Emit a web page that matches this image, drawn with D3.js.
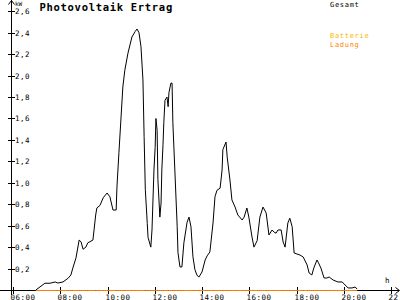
<!DOCTYPE html>
<html><head><meta charset="utf-8">
<script src="https://cdn.jsdelivr.net/npm/d3@7"></script>
<style>
html,body{margin:0;padding:0;background:#fff;}
svg{display:block;}
text{font-family:"DejaVu Sans Mono",monospace;}
</style></head>
<body>
<svg id="c" width="400" height="300"></svg>
<script>
// ---- data ----
const times = ["06:58","07:21","07:34","07:47","07:54","08:07","08:20","08:27","08:32","08:40","08:48","08:53","08:58","09:05","09:10","09:23","09:30","09:33","09:41","09:49","09:59","10:06","10:14","10:22","10:24","10:29","10:34","10:39","10:44","10:52","11:02","11:10","11:15","11:20","11:25","11:30","11:33","11:36","11:41","11:43","11:50","11:53","11:58","12:01","12:03","12:06","12:08","12:13","12:16","12:18","12:21","12:23","12:26","12:31","12:34","12:36","12:41","12:44","12:46","12:51","12:57","12:59","13:04","13:09","13:14","13:22","13:27","13:32","13:37","13:42","13:47","13:52","14:00","14:08","14:13","14:20","14:28","14:33","14:38","14:46","14:51","14:53","15:01","15:04","15:11","15:16","15:24","15:31","15:42","15:47","15:54","15:59","16:07","16:12","16:20","16:27","16:35","16:43","16:50","16:58","17:03","17:08","17:13","17:21","17:26","17:31","17:38","17:43","17:49","17:54","18:01","18:09","18:17","18:27","18:32","18:39","18:44","18:52","18:55","19:02","19:10","19:17","19:23","19:33","19:45","19:56","20:01","20:11","20:21","20:29","20:34"];
const gesamt = [0,0.063,0.063,0.075,0.065,0.075,0.11,0.14,0.205,0.30,0.466,0.448,0.38,0.40,0.44,0.466,0.70,0.765,0.79,0.86,0.905,0.87,0.746,0.746,0.96,1.28,1.586,1.894,2.05,2.21,2.36,2.41,2.435,2.40,2.27,1.96,1.43,0.94,0.62,0.49,0.40,0.56,1.12,1.33,1.60,1.49,1.03,0.68,0.81,1.12,1.36,1.56,1.77,1.80,1.71,1.84,1.93,1.93,1.56,1.12,0.59,0.35,0.215,0.215,0.44,0.63,0.68,0.59,0.31,0.19,0.14,0.12,0.168,0.28,0.318,0.355,0.625,0.87,0.93,0.95,1.12,1.31,1.38,1.24,1.026,0.84,0.774,0.70,0.653,0.68,0.765,0.68,0.494,0.40,0.46,0.68,0.774,0.718,0.513,0.56,0.54,0.53,0.56,0.56,0.448,0.40,0.625,0.67,0.59,0.345,0.336,0.326,0.308,0.233,0.159,0.14,0.205,0.28,0.26,0.205,0.112,0.112,0.121,0.093,0.075,0.075,0.056,0.019,0.019,0.028,0.009];
const ladung = times.map(() => 0);
const yTicks = [0.2,0.4,0.6,0.8,1.0,1.2,1.4,1.6,1.8,2.0,2.2,2.4,2.6];
const xTicks = ["06:00","08:00","10:00","12:00","14:00","16:00","18:00","20:00","22:"];
const legend = ["Gesamt","Batterie","Ladung"];
const legendColors = ["#000000","#ffb400","#ff8000"];

// ---- drawing ----
const toH = s => { const p = s.split(":"); return +p[0] + (p[1] ? +p[1]/60 : 0); };
const svg = d3.select("#c");
const x = d3.scaleLinear().domain([6,22]).range([13,391]);
const y = d3.scaleLinear().domain([0,2.6]).range([290,11.3]);

// axes lines
svg.append("line").attr("x1",0).attr("x2",399).attr("y1",290.5).attr("y2",290.5).attr("stroke","#000").attr("shape-rendering","crispEdges");
svg.append("line").attr("x1",11.5).attr("x2",11.5).attr("y1",0).attr("y2",295).attr("stroke","#000").attr("shape-rendering","crispEdges");
// arrows
svg.append("path").attr("d","M8.5,4.5 L11.5,0.5 L14.5,4.5").attr("fill","none").attr("stroke","#000");
svg.append("path").attr("d","M395.5,287.5 L399.5,290.5 L395.5,293.5").attr("fill","none").attr("stroke","#000");

// y ticks
const yg = svg.append("g");
yTicks.forEach(v => {
  const yy = Math.round(y(v)) + 0.5;
  yg.append("line").attr("x1",8).attr("x2",15).attr("y1",yy).attr("y2",yy).attr("stroke","#000").attr("shape-rendering","crispEdges");
  yg.append("text").attr("x",15).attr("y",yy+2.5).attr("font-size","7.5px").attr("letter-spacing","0.5px").attr("fill","#000")
    .text(d3.format(".1f")(v).replace(".",","));
});
// x ticks
const xg = svg.append("g");
xTicks.forEach(t => {
  const xx = Math.round(x(toH(t))) + 0.5;
  xg.append("line").attr("x1",xx).attr("x2",xx).attr("y1",287).attr("y2",294).attr("stroke","#000").attr("shape-rendering","crispEdges");
  xg.append("text").attr("x",xx-3).attr("y",299.5).attr("font-size","7.5px").attr("letter-spacing","0.5px").attr("fill","#000").text(t);
});

// labels
svg.append("text").attr("x",15).attr("y",5.5).attr("font-size","6px").text("kW");
svg.append("text").attr("x",385).attr("y",283).attr("font-size","7.5px").text("h");
svg.append("text").attr("x",39.5).attr("y",11).attr("font-size","10.5px").attr("font-weight","bold").attr("letter-spacing","0.7px").text("Photovoltaik Ertrag");

// legend
const legY = [7, 38, 46.5];
legend.forEach((l,i) => {
  svg.append("text").attr("x",330).attr("y",legY[i]).attr("font-size","7px").attr("letter-spacing","0.7px").attr("fill",legendColors[i]).text(l);
});

// series
const line = d3.line().x(d => x(d[0])).y(d => y(d[1]));
const gData = times.map((t,i) => [toH(t), gesamt[i]]);
const lData = times.map((t,i) => [toH(t), ladung[i]]);
svg.append("path").datum(gData).attr("d",line).attr("fill","none").attr("stroke","#000").attr("stroke-width",1);
svg.append("path").datum(lData).attr("d",line).attr("fill","none").attr("stroke","#ff8000").attr("stroke-width",1).attr("transform","translate(0,0.5)");
</script>
</body></html>
